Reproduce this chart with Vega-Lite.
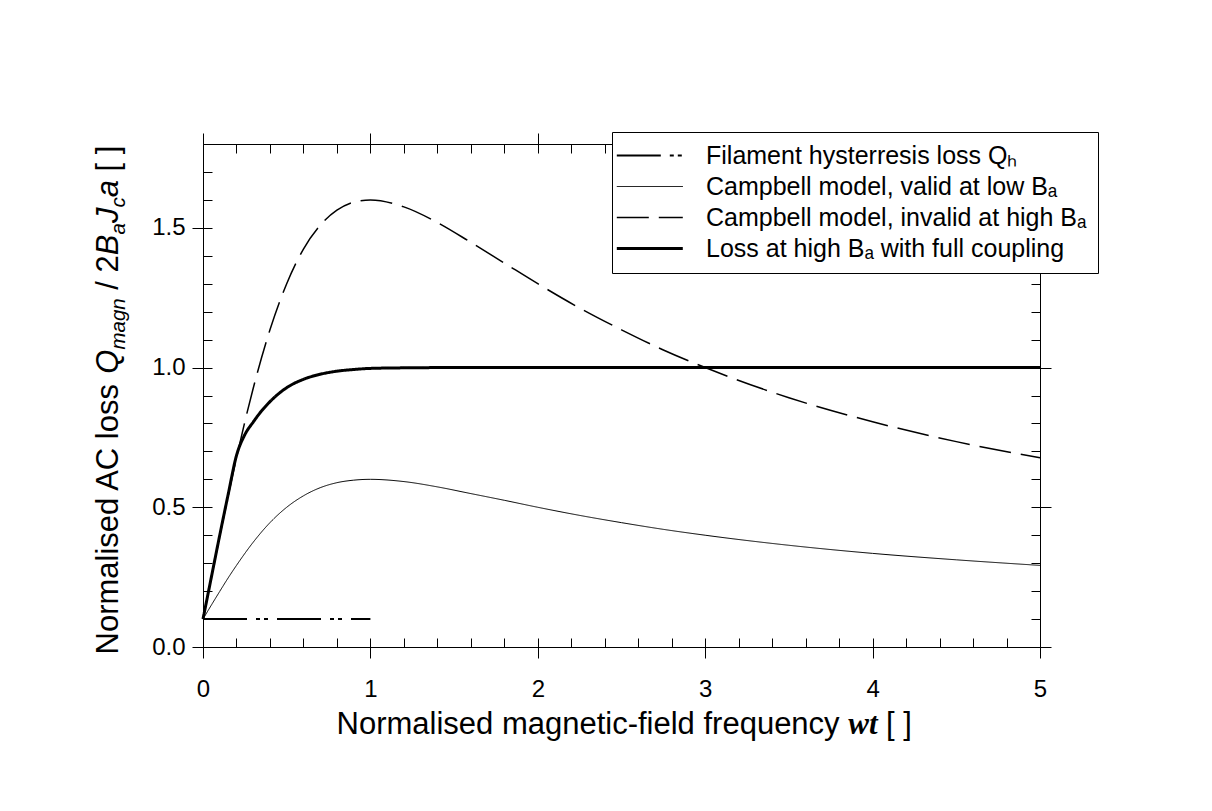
{
  "$schema": "https://vega.github.io/schema/vega-lite/v6.json",
  "width": 837,
  "height": 503,
  "autosize": {"type": "none"},
  "padding": {"left": 203, "top": 144, "right": 172, "bottom": 164},
  "background": "white",
  "config": {
    "font": "Liberation Sans",
    "view": {"stroke": null},
    "axis": {"grid": false, "domainColor": "black", "tickColor": "black", "labelColor": "black", "titleColor": "black", "domainWidth": 1, "tickWidth": 1, "titleFontWeight": "normal", "labelFont": "Liberation Sans", "titleFont": "Liberation Sans"}
  },
  "data": {"values": [
    {"s": "Filament hysterresis loss Qₕ", "x": 0, "y": 0.1},
    {"s": "Filament hysterresis loss Qₕ", "x": 1, "y": 0.1},
    {"s": "Campbell model, valid at low Bₐ", "x": 0, "y": 0.1},
    {"s": "Campbell model, valid at low Bₐ", "x": 0.05, "y": 0.15},
    {"s": "Campbell model, valid at low Bₐ", "x": 0.1, "y": 0.199},
    {"s": "Campbell model, valid at low Bₐ", "x": 0.15, "y": 0.247},
    {"s": "Campbell model, valid at low Bₐ", "x": 0.2, "y": 0.292},
    {"s": "Campbell model, valid at low Bₐ", "x": 0.3, "y": 0.375},
    {"s": "Campbell model, valid at low Bₐ", "x": 0.4, "y": 0.445},
    {"s": "Campbell model, valid at low Bₐ", "x": 0.5, "y": 0.5},
    {"s": "Campbell model, valid at low Bₐ", "x": 0.6, "y": 0.541},
    {"s": "Campbell model, valid at low Bₐ", "x": 0.7, "y": 0.57},
    {"s": "Campbell model, valid at low Bₐ", "x": 0.8, "y": 0.588},
    {"s": "Campbell model, valid at low Bₐ", "x": 0.9, "y": 0.597},
    {"s": "Campbell model, valid at low Bₐ", "x": 1, "y": 0.6},
    {"s": "Campbell model, valid at low Bₐ", "x": 1.2, "y": 0.592},
    {"s": "Campbell model, valid at low Bₐ", "x": 1.4, "y": 0.573},
    {"s": "Campbell model, valid at low Bₐ", "x": 1.6, "y": 0.549},
    {"s": "Campbell model, valid at low Bₐ", "x": 1.8, "y": 0.525},
    {"s": "Campbell model, valid at low Bₐ", "x": 2, "y": 0.5},
    {"s": "Campbell model, valid at low Bₐ", "x": 2.25, "y": 0.471},
    {"s": "Campbell model, valid at low Bₐ", "x": 2.5, "y": 0.445},
    {"s": "Campbell model, valid at low Bₐ", "x": 2.75, "y": 0.421},
    {"s": "Campbell model, valid at low Bₐ", "x": 3, "y": 0.4},
    {"s": "Campbell model, valid at low Bₐ", "x": 3.5, "y": 0.364},
    {"s": "Campbell model, valid at low Bₐ", "x": 4, "y": 0.335},
    {"s": "Campbell model, valid at low Bₐ", "x": 4.5, "y": 0.312},
    {"s": "Campbell model, valid at low Bₐ", "x": 5, "y": 0.292},
    {"s": "Campbell model, invalid at high Bₐ", "x": 0, "y": 0.1},
    {"s": "Campbell model, invalid at high Bₐ", "x": 0.05, "y": 0.25},
    {"s": "Campbell model, invalid at high Bₐ", "x": 0.1, "y": 0.397},
    {"s": "Campbell model, invalid at high Bₐ", "x": 0.15, "y": 0.54},
    {"s": "Campbell model, invalid at high Bₐ", "x": 0.2, "y": 0.677},
    {"s": "Campbell model, invalid at high Bₐ", "x": 0.3, "y": 0.926},
    {"s": "Campbell model, invalid at high Bₐ", "x": 0.4, "y": 1.135},
    {"s": "Campbell model, invalid at high Bₐ", "x": 0.5, "y": 1.3},
    {"s": "Campbell model, invalid at high Bₐ", "x": 0.6, "y": 1.424},
    {"s": "Campbell model, invalid at high Bₐ", "x": 0.7, "y": 1.509},
    {"s": "Campbell model, invalid at high Bₐ", "x": 0.8, "y": 1.563},
    {"s": "Campbell model, invalid at high Bₐ", "x": 0.9, "y": 1.592},
    {"s": "Campbell model, invalid at high Bₐ", "x": 1, "y": 1.6},
    {"s": "Campbell model, invalid at high Bₐ", "x": 1.2, "y": 1.575},
    {"s": "Campbell model, invalid at high Bₐ", "x": 1.4, "y": 1.519},
    {"s": "Campbell model, invalid at high Bₐ", "x": 1.6, "y": 1.448},
    {"s": "Campbell model, invalid at high Bₐ", "x": 1.8, "y": 1.374},
    {"s": "Campbell model, invalid at high Bₐ", "x": 2, "y": 1.3},
    {"s": "Campbell model, invalid at high Bₐ", "x": 2.25, "y": 1.213},
    {"s": "Campbell model, invalid at high Bₐ", "x": 2.5, "y": 1.135},
    {"s": "Campbell model, invalid at high Bₐ", "x": 2.75, "y": 1.063},
    {"s": "Campbell model, invalid at high Bₐ", "x": 3, "y": 1.0},
    {"s": "Campbell model, invalid at high Bₐ", "x": 3.5, "y": 0.892},
    {"s": "Campbell model, invalid at high Bₐ", "x": 4, "y": 0.806},
    {"s": "Campbell model, invalid at high Bₐ", "x": 4.5, "y": 0.735},
    {"s": "Campbell model, invalid at high Bₐ", "x": 5, "y": 0.677},
    {"s": "Loss at high Bₐ with full coupling", "x": 0, "y": 0.1},
    {"s": "Loss at high Bₐ with full coupling", "x": 0.05, "y": 0.25},
    {"s": "Loss at high Bₐ with full coupling", "x": 0.1, "y": 0.4},
    {"s": "Loss at high Bₐ with full coupling", "x": 0.15, "y": 0.545},
    {"s": "Loss at high Bₐ with full coupling", "x": 0.2, "y": 0.685},
    {"s": "Loss at high Bₐ with full coupling", "x": 0.25, "y": 0.76},
    {"s": "Loss at high Bₐ with full coupling", "x": 0.3, "y": 0.805},
    {"s": "Loss at high Bₐ with full coupling", "x": 0.35, "y": 0.845},
    {"s": "Loss at high Bₐ with full coupling", "x": 0.4, "y": 0.878},
    {"s": "Loss at high Bₐ with full coupling", "x": 0.5, "y": 0.928},
    {"s": "Loss at high Bₐ with full coupling", "x": 0.6, "y": 0.958},
    {"s": "Loss at high Bₐ with full coupling", "x": 0.7, "y": 0.976},
    {"s": "Loss at high Bₐ with full coupling", "x": 0.8, "y": 0.987},
    {"s": "Loss at high Bₐ with full coupling", "x": 0.9, "y": 0.993},
    {"s": "Loss at high Bₐ with full coupling", "x": 1, "y": 0.997},
    {"s": "Loss at high Bₐ with full coupling", "x": 1.2, "y": 0.999},
    {"s": "Loss at high Bₐ with full coupling", "x": 1.5, "y": 1.0},
    {"s": "Loss at high Bₐ with full coupling", "x": 2, "y": 1.0},
    {"s": "Loss at high Bₐ with full coupling", "x": 3, "y": 1.0},
    {"s": "Loss at high Bₐ with full coupling", "x": 4, "y": 1.0},
    {"s": "Loss at high Bₐ with full coupling", "x": 5, "y": 1.0}
  ]},
  "resolve": {"axis": {"x": "independent", "y": "independent"}},
  "layer": [
    {
      "mark": {"type": "line", "color": "black", "interpolate": "monotone"},
      "encoding": {
        "x": {"field": "x", "type": "quantitative", "scale": {"domain": [0, 5], "nice": false, "zero": false},
              "axis": {"orient": "bottom", "values": [0, 1, 2, 3, 4, 5], "format": "d", "tickSize": 11, "labelFontSize": 24, "labelPadding": 19, "title": null, "labelFlush": false}},
        "y": {"field": "y", "type": "quantitative", "scale": {"domain": [0, 1.8], "nice": false, "zero": false},
              "axis": {"orient": "left", "values": [0, 0.5, 1, 1.5], "format": ".1f", "tickSize": 11, "labelFontSize": 24, "labelPadding": 7, "title": null, "labelFlush": false}},
        "strokeDash": {"field": "s", "type": "nominal",
          "scale": {"domain": ["Filament hysterresis loss Qₕ", "Campbell model, valid at low Bₐ", "Campbell model, invalid at high Bₐ", "Loss at high Bₐ with full coupling"],
                    "range": [[44, 9, 4, 4, 4, 9], [1, 0], [32, 10], [1, 0]]},
          "legend": {"orient": "none", "legendX": 409, "legendY": -12, "title": null, "padding": 11, "symbolType": "M-1.7,0H4.3", "symbolSize": 484, "labelOffset": 58, "labelFontSize": 25, "labelFont": "Liberation Sans", "labelColor": "black", "labelLimit": 0, "rowPadding": 5, "strokeColor": "black", "fillColor": "white", "symbolStrokeColor": "black", "zindex": 5}},
        "strokeWidth": {"field": "s", "type": "nominal",
          "scale": {"type": "ordinal", "domain": ["Filament hysterresis loss Qₕ", "Campbell model, valid at low Bₐ", "Campbell model, invalid at high Bₐ", "Loss at high Bₐ with full coupling"],
                    "range": [2, 1, 1.5, 3]},
          "legend": {"orient": "none", "legendX": 409, "legendY": -12, "title": null, "padding": 11, "symbolType": "M-1.7,0H4.3", "symbolSize": 484, "labelOffset": 58, "labelFontSize": 25, "labelFont": "Liberation Sans", "labelColor": "black", "labelLimit": 0, "rowPadding": 5, "strokeColor": "black", "fillColor": "white", "symbolStrokeColor": "black", "zindex": 5}}
      }
    },
    {
      "mark": {"type": "point", "opacity": 0},
      "encoding": {
        "x": {"field": "x", "type": "quantitative", "scale": {"domain": [0, 5], "nice": false, "zero": false},
              "axis": {"orient": "bottom", "values": [0, 0.2, 0.4, 0.6, 0.8, 1, 1.2, 1.4, 1.6, 1.8, 2, 2.2, 2.4, 2.6, 2.8, 3, 3.2, 3.4, 3.6, 3.8, 4, 4.2, 4.4, 4.6, 4.8, 5], "tickSize": -9, "labels": false, "domain": false, "title": null}},
        "y": {"field": "y", "type": "quantitative", "scale": {"domain": [0, 1.8], "nice": false, "zero": false},
              "axis": {"orient": "left", "values": [0, 0.1, 0.2, 0.3, 0.4, 0.5, 0.6, 0.7, 0.8, 0.9, 1, 1.1, 1.2, 1.3, 1.4, 1.5, 1.6, 1.7, 1.8], "tickSize": -9, "labels": false, "domain": false, "title": null}}
      }
    },
    {
      "mark": {"type": "point", "opacity": 0},
      "encoding": {
        "x": {"field": "x", "type": "quantitative", "scale": {"domain": [0, 5], "nice": false, "zero": false},
              "axis": {"orient": "top", "values": [0, 1, 2, 3, 4, 5], "tickSize": 11, "labels": false, "domain": true, "title": null}},
        "y": {"field": "y", "type": "quantitative", "scale": {"domain": [0, 1.8], "nice": false, "zero": false},
              "axis": {"orient": "right", "values": [0, 0.5, 1, 1.5], "tickSize": 11, "labels": false, "domain": true, "title": null}}
      }
    },
    {
      "mark": {"type": "point", "opacity": 0},
      "encoding": {
        "x": {"field": "x", "type": "quantitative", "scale": {"domain": [0, 5], "nice": false, "zero": false},
              "axis": {"orient": "top", "values": [0, 0.2, 0.4, 0.6, 0.8, 1, 1.2, 1.4, 1.6, 1.8, 2, 2.2, 2.4, 2.6, 2.8, 3, 3.2, 3.4, 3.6, 3.8, 4, 4.2, 4.4, 4.6, 4.8, 5], "tickSize": -9, "labels": false, "domain": false, "title": null}},
        "y": {"field": "y", "type": "quantitative", "scale": {"domain": [0, 1.8], "nice": false, "zero": false},
              "axis": {"orient": "right", "values": [0, 0.1, 0.2, 0.3, 0.4, 0.5, 0.6, 0.7, 0.8, 0.9, 1, 1.1, 1.2, 1.3, 1.4, 1.5, 1.6, 1.7, 1.8], "tickSize": -9, "labels": false, "domain": false, "title": null}}
      }
    },
    {"mark": {"type": "point", "opacity": 0}, "encoding": {"x": {"field": "x", "type": "quantitative", "axis": null}, "y": {"field": "y", "type": "quantitative",
      "axis": {"orient": "left", "labels": false, "ticks": false, "domain": false, "title": "Normalised AC loss", "titleX": -86, "titleY": 510, "titleAngle": -90, "titleAlign": "left", "titleBaseline": "alphabetic", "titleFontSize": 31, "titleFontStyle": "normal"}}}},
    {"mark": {"type": "point", "opacity": 0}, "encoding": {"x": {"field": "x", "type": "quantitative", "axis": null}, "y": {"field": "y", "type": "quantitative",
      "axis": {"orient": "left", "labels": false, "ticks": false, "domain": false, "title": "Q", "titleX": -86, "titleY": 229.2, "titleAngle": -90, "titleAlign": "left", "titleBaseline": "alphabetic", "titleFontSize": 31, "titleFontStyle": "italic"}}}},
    {"mark": {"type": "point", "opacity": 0}, "encoding": {"x": {"field": "x", "type": "quantitative", "axis": null}, "y": {"field": "y", "type": "quantitative",
      "axis": {"orient": "left", "labels": false, "ticks": false, "domain": false, "title": "magn", "titleX": -79, "titleY": 205.1, "titleAngle": -90, "titleAlign": "left", "titleBaseline": "alphabetic", "titleFontSize": 20.5, "titleFontStyle": "italic"}}}},
    {"mark": {"type": "point", "opacity": 0}, "encoding": {"x": {"field": "x", "type": "quantitative", "axis": null}, "y": {"field": "y", "type": "quantitative",
      "axis": {"orient": "left", "labels": false, "ticks": false, "domain": false, "title": "/ 2", "titleX": -86, "titleY": 145.2, "titleAngle": -90, "titleAlign": "left", "titleBaseline": "alphabetic", "titleFontSize": 31, "titleFontStyle": "normal"}}}},
    {"mark": {"type": "point", "opacity": 0}, "encoding": {"x": {"field": "x", "type": "quantitative", "axis": null}, "y": {"field": "y", "type": "quantitative",
      "axis": {"orient": "left", "labels": false, "ticks": false, "domain": false, "title": "B", "titleX": -86, "titleY": 110.7, "titleAngle": -90, "titleAlign": "left", "titleBaseline": "alphabetic", "titleFontSize": 31, "titleFontStyle": "italic"}}}},
    {"mark": {"type": "point", "opacity": 0}, "encoding": {"x": {"field": "x", "type": "quantitative", "axis": null}, "y": {"field": "y", "type": "quantitative",
      "axis": {"orient": "left", "labels": false, "ticks": false, "domain": false, "title": "a", "titleX": -79, "titleY": 90.0, "titleAngle": -90, "titleAlign": "left", "titleBaseline": "alphabetic", "titleFontSize": 20.5, "titleFontStyle": "italic"}}}},
    {"mark": {"type": "point", "opacity": 0}, "encoding": {"x": {"field": "x", "type": "quantitative", "axis": null}, "y": {"field": "y", "type": "quantitative",
      "axis": {"orient": "left", "labels": false, "ticks": false, "domain": false, "title": "J", "titleX": -86, "titleY": 78.6, "titleAngle": -90, "titleAlign": "left", "titleBaseline": "alphabetic", "titleFontSize": 31, "titleFontStyle": "italic"}}}},
    {"mark": {"type": "point", "opacity": 0}, "encoding": {"x": {"field": "x", "type": "quantitative", "axis": null}, "y": {"field": "y", "type": "quantitative",
      "axis": {"orient": "left", "labels": false, "ticks": false, "domain": false, "title": "c", "titleX": -79, "titleY": 63.1, "titleAngle": -90, "titleAlign": "left", "titleBaseline": "alphabetic", "titleFontSize": 20.5, "titleFontStyle": "italic"}}}},
    {"mark": {"type": "point", "opacity": 0}, "encoding": {"x": {"field": "x", "type": "quantitative", "axis": null}, "y": {"field": "y", "type": "quantitative",
      "axis": {"orient": "left", "labels": false, "ticks": false, "domain": false, "title": "a", "titleX": -86, "titleY": 52.8, "titleAngle": -90, "titleAlign": "left", "titleBaseline": "alphabetic", "titleFontSize": 31, "titleFontStyle": "italic"}}}},
    {"mark": {"type": "point", "opacity": 0}, "encoding": {"x": {"field": "x", "type": "quantitative", "axis": null}, "y": {"field": "y", "type": "quantitative",
      "axis": {"orient": "left", "labels": false, "ticks": false, "domain": false, "title": "[ ]", "titleX": -86, "titleY": 27.0, "titleAngle": -90, "titleAlign": "left", "titleBaseline": "alphabetic", "titleFontSize": 31, "titleFontStyle": "normal"}}}},
    {"mark": {"type": "point", "opacity": 0}, "encoding": {"y": {"field": "y", "type": "quantitative", "axis": null}, "x": {"field": "x", "type": "quantitative",
      "axis": {"orient": "bottom", "labels": false, "ticks": false, "domain": false, "title": "Normalised magnetic-field frequency", "titleX": 133, "titleY": 86, "titleAngle": 0, "titleAlign": "left", "titleBaseline": "alphabetic", "titleFontSize": 31, "titleFontStyle": "normal"}}}},
    {"mark": {"type": "point", "opacity": 0}, "encoding": {"y": {"field": "y", "type": "quantitative", "axis": null}, "x": {"field": "x", "type": "quantitative",
      "axis": {"orient": "bottom", "labels": false, "ticks": false, "domain": false, "title": "wt", "titleX": 644.7, "titleY": 86, "titleAngle": 0, "titleAlign": "left", "titleBaseline": "alphabetic", "titleFontSize": 31, "titleFontStyle": "italic", "titleFontWeight": "bold", "titleFont": "Liberation Serif"}}}},
    {"mark": {"type": "point", "opacity": 0}, "encoding": {"y": {"field": "y", "type": "quantitative", "axis": null}, "x": {"field": "x", "type": "quantitative",
      "axis": {"orient": "bottom", "labels": false, "ticks": false, "domain": false, "title": "[ ]", "titleX": 682.6, "titleY": 86, "titleAngle": 0, "titleAlign": "left", "titleBaseline": "alphabetic", "titleFontSize": 31, "titleFontStyle": "normal"}}}}
  ]
}
